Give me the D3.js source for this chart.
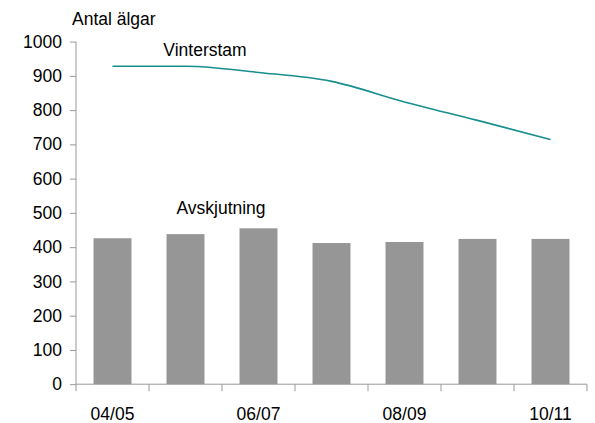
<!DOCTYPE html>
<html>
<head>
<meta charset="utf-8">
<script src="https://cdn.jsdelivr.net/npm/d3@7"></script>
<style>
  body { margin: 0; background: #fff; }
  svg { font-family: 'Liberation Sans', Arial, sans-serif; }
</style>
</head>
<body>
<div id="chart"></div>
<script>
const seasons = ['04/05', '05/06', '06/07', '07/08', '08/09', '09/10', '10/11']
const avskjutning = [426, 438, 455, 412, 415, 424, 424]
const vinterstam = [928, 928, 910, 884, 824, 770, 714]
const yTicks = [0, 100, 200, 300, 400, 500, 600, 700, 800, 900, 1000]
const xLabels = ['04/05', '06/07', '08/09', '10/11']

const width = 595
const height = 423
const margin = { left: 76, right: 8, top: 41.6, bottom: 38.8 }
const fontSize = '17.5px'

const svg = d3.select('#chart').append('svg')
  .attr('width', width)
  .attr('height', height)

const x = d3.scaleBand()
  .domain(seasons)
  .range([margin.left, width - margin.right])
  .paddingInner(0.48)
  .paddingOuter(0.24)

const xOuter = d3.scaleBand()
  .domain(seasons)
  .range([margin.left, width - margin.right])

const y = d3.scaleLinear()
  .domain([0, 1000])
  .range([height - margin.bottom, margin.top])

// bars
svg.append('g')
  .selectAll('rect')
  .data(avskjutning)
  .join('rect')
  .attr('x', (d, i) => x(seasons[i]))
  .attr('y', d => y(d))
  .attr('width', x.bandwidth())
  .attr('height', d => y(0) - y(d))
  .attr('fill', '#969696')

// line
const line = d3.line()
  .x((d, i) => xOuter(seasons[i]) + xOuter.bandwidth() / 2)
  .y(d => y(d))
  .curve(d3.curveMonotoneX)

svg.append('path')
  .datum(vinterstam)
  .attr('d', line)
  .attr('fill', 'none')
  .attr('stroke', '#178e8e')
  .attr('stroke-width', 1.6)

// y axis
const yAxis = svg.append('g')
  .attr('transform', `translate(${margin.left},0)`)
  .call(d3.axisLeft(y).tickValues(yTicks).tickFormat(d3.format('d')).tickSize(6).tickPadding(8))
yAxis.selectAll('path, line').attr('stroke', '#999')
yAxis.selectAll('text')
  .attr('fill', '#000')
  .style('font-size', fontSize)
  .style('font-family', "'Liberation Sans', Arial, sans-serif")
yAxis.select('.domain').attr('d', `M0,${y(1000)}V${y(0)}`)

// x axis
const xAxisG = svg.append('g')
  .attr('transform', `translate(0,${y(0)})`)
xAxisG.append('line')
  .attr('x1', margin.left).attr('x2', width - margin.right)
  .attr('stroke', '#999')
xAxisG.selectAll('line.tick')
  .data(seasons.concat(['end']))
  .join('line')
  .attr('class', 'tick')
  .attr('x1', (d, i) => margin.left + i * xOuter.bandwidth())
  .attr('x2', (d, i) => margin.left + i * xOuter.bandwidth())
  .attr('y1', 0).attr('y2', 7)
  .attr('stroke', '#999')
xAxisG.selectAll('text')
  .data(xLabels)
  .join('text')
  .attr('x', d => xOuter(d) + xOuter.bandwidth() / 2)
  .attr('y', 35.8)
  .attr('text-anchor', 'middle')
  .style('font-size', fontSize)
  .text(d => d)

// titles
svg.append('text')
  .attr('x', 72).attr('y', 25)
  .style('font-size', fontSize)
  .text('Antal älgar')

svg.append('text')
  .attr('x', 205).attr('y', 55.5)
  .attr('text-anchor', 'middle')
  .style('font-size', fontSize)
  .text('Vinterstam')

svg.append('text')
  .attr('x', 221).attr('y', 213.5)
  .attr('text-anchor', 'middle')
  .style('font-size', fontSize)
  .text('Avskjutning')
</script>
</body>
</html>
